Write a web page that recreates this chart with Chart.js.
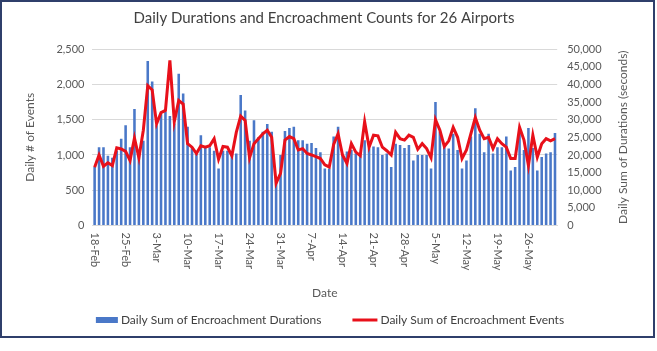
<!DOCTYPE html>
<html>
<head>
<meta charset="utf-8">
<script src="https://cdn.jsdelivr.net/npm/chart.js@4.4.1/dist/chart.umd.min.js"></script>
<style>
html, body { margin: 0; padding: 0; background: #fff; }
#frame { position: absolute; left: 0; top: 0; width: 655px; height: 338px; border: 2px solid #2f3f6b; box-sizing: border-box; background: #fff; }
#wrap { position: absolute; left: 0; top: 0; width: 651px; height: 334px; }
</style>
</head>
<body>
<div id="frame"><div id="wrap"><canvas id="mychart"></canvas></div></div>
<script>
const FONT = 'Lato, "Open Sans", sans-serif';

// daily categories: 18-Feb-2020 .. 1-Jun-2020
const monthNames = ['Jan', 'Feb', 'Mar', 'Apr', 'May', 'Jun'];
const dayLabels = [];
for (let i = 0; i < 105; i++) {
    const d = new Date(2020, 1, 18 + i);
    dayLabels.push(d.getDate() + '-' + monthNames[d.getMonth()]);
}

// bars, right axis (seconds)
const durations = [
    16600, 22200, 22200, 19800, 19200, 21200, 24600, 28400, 22200, 33000,
    20000, 24000, 46600, 40800, 28400, 31600, 32200, 31000, 28900, 43000,
    37400, 28000, 22200, 20400, 25600, 22200, 22200, 21200, 16200, 21200,
    21200, 20400, 20400, 37000, 32600, 24000, 29800, 25000, 26600, 28800,
    26600, 13600, 20000, 26800, 27600, 28000, 24200, 24200, 23200, 23400,
    22000, 20800, 16200, 16200, 25200, 28000, 20000, 21000, 21400, 20400,
    20000, 24200, 21800, 22400, 22200, 20000, 20400, 16600, 23200, 22800,
    22000, 22800, 18400, 20000, 20000, 20000, 16200, 35000, 26600, 22200,
    21800, 26000, 21400, 16200, 18400, 25200, 33200, 26000, 20800, 26000,
    20400, 22200, 22200, 25200, 15600, 16600, 26600, 21400, 27600, 22000,
    15600, 19400, 20400, 20800, 26200
];

// line, left axis (events per day)
const events = [
    825, 1000, 840, 890, 850, 1100, 1085, 1050, 920, 1240,
    960, 1350, 1980, 1920, 1440, 1600, 1630, 2340, 1470, 1770,
    1720, 1160, 1110, 1020, 1130, 1110, 1130, 1230, 940, 1120,
    1110, 990, 1320, 1550, 1490, 960, 1160, 1230, 1300, 1350,
    1250, 600, 740, 1210, 1260, 1230, 1070, 1090, 1020, 1000,
    975, 950, 860, 830, 1150, 1300, 1000, 880, 1160, 1040,
    990, 1470, 1110, 1280, 1270, 1110, 1060, 1000, 1320, 1230,
    1210, 1280, 1250, 1080, 1160, 1090, 960, 1500, 1350, 1120,
    1200, 1390, 1250, 950, 1070, 1300, 1530, 1350, 1230, 1250,
    1090, 1230, 1160, 1110, 950, 950, 1390, 1210, 850, 1280,
    970, 1160, 1230, 1200, 1230
];

const legendNames = ['Daily Sum of Encroachment Durations', 'Daily Sum of Encroachment Events'];
const barColor = '#4a78c8';
const lineColor = '#e8101a';
const rightTitle = 'Daily Sum of Durations (seconds)';

// rotated x labels (top to bottom), right title (bottom to top), legend
const customDraw = {
    id: 'customDraw',
    afterDraw(chart) {
        const ctx = chart.ctx;
        const xs = chart.scales.x;
        const area = chart.chartArea;
        ctx.save();
        ctx.font = '11px ' + FONT;
        ctx.fillStyle = '#595959';
        ctx.textAlign = 'left';
        ctx.textBaseline = 'middle';
        for (let i = 0; i < dayLabels.length; i += 7) {
            ctx.save();
            ctx.translate(xs.getPixelForValue(i), area.bottom + 7);
            ctx.rotate(Math.PI / 2);
            ctx.fillText(dayLabels[i], 0, 0);
            ctx.restore();
        }

        const y1 = chart.scales.y1;
        ctx.font = '12px ' + FONT;
        ctx.textAlign = 'center';
        ctx.save();
        ctx.translate(y1.right - 16 - 7.2, (area.top + area.bottom) / 2);
        ctx.rotate(-Math.PI / 2);
        ctx.fillText(rightTitle, 0, 0);
        ctx.restore();

        // legend
        ctx.font = '12px ' + FONT;
        ctx.textAlign = 'left';
        const w1 = ctx.measureText(legendNames[0]).width;
        const w2 = ctx.measureText(legendNames[1]).width;
        const total = 22 + 3 + w1 + 31 + 25 + 3 + w2;
        let lx = 328 - total / 2;
        const ly = 318;
        ctx.fillStyle = barColor;
        ctx.fillRect(lx, ly - 3, 22, 6);
        ctx.fillStyle = '#404040';
        ctx.fillText(legendNames[0], lx + 25, ly);
        lx += 25 + w1 + 31;
        ctx.strokeStyle = lineColor;
        ctx.lineWidth = 3;
        ctx.beginPath();
        ctx.moveTo(lx, ly);
        ctx.lineTo(lx + 25, ly);
        ctx.stroke();
        ctx.fillText(legendNames[1], lx + 28, ly);
        ctx.restore();
    }
};

const ctx = document.getElementById('mychart');
const mychart = new Chart(ctx, {
    type: 'bar',
    data: {
        labels: dayLabels,
        datasets: [{
            type: 'line',
            label: legendNames[1],
            data: events,
            yAxisID: 'y',
            borderColor: lineColor,
            borderWidth: 3,
            pointRadius: 0,
            tension: 0,
            fill: false
        }, {
            type: 'bar',
            label: legendNames[0],
            data: durations,
            yAxisID: 'y1',
            backgroundColor: barColor,
            barPercentage: 0.58,
            categoryPercentage: 1
        }]
    },
    options: {
        responsive: true,
        maintainAspectRatio: false,
        animation: false,
        devicePixelRatio: 1,
        layout: { padding: { left: 0, right: 7, top: 0, bottom: 32 } },
        plugins: {
            legend: { display: false },
            tooltip: { enabled: false },
            title: {
                display: true,
                text: 'Daily Durations and Encroachment Counts for 26 Airports',
                color: '#404040',
                font: { family: FONT, size: 15, weight: 'normal' },
                padding: { top: 7, bottom: 22 }
            }
        },
        scales: {
            x: {
                ticks: { display: false },
                grid: { display: false, drawTicks: false },
                border: { display: true, color: '#d9d9d9' },
                title: {
                    display: true,
                    text: 'Date',
                    color: '#595959',
                    font: { family: FONT, size: 12 },
                    padding: { top: 60, bottom: 4 }
                }
            },
            y: {
                position: 'left',
                min: 0,
                max: 2500,
                ticks: { stepSize: 500, padding: 8, color: '#595959', font: { family: FONT, size: 11 } },
                grid: { color: '#d9d9d9', drawTicks: false },
                border: { display: false },
                title: {
                    display: true,
                    text: 'Daily # of Events',
                    color: '#595959',
                    font: { family: FONT, size: 12 },
                    padding: { top: 21, bottom: 11 }
                }
            },
            y1: {
                position: 'right',
                min: 0,
                max: 50000,
                ticks: { stepSize: 5000, padding: 10, color: '#595959', font: { family: FONT, size: 11 } },
                grid: { drawOnChartArea: false, drawTicks: false },
                border: { display: false },
                title: {
                    display: true,
                    text: rightTitle,
                    color: 'transparent',
                    font: { family: FONT, size: 12 },
                    padding: { top: 16, bottom: 4 }
                }
            }
        }
    },
    plugins: [customDraw]
});
</script>
</body>
</html>
